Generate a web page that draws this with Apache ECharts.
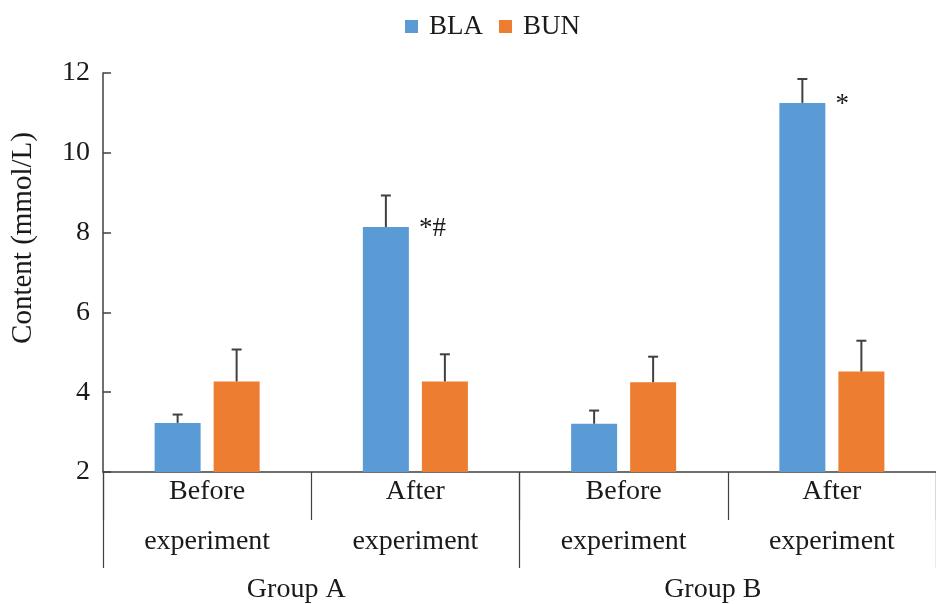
<!DOCTYPE html>
<html>
<head>
<meta charset="utf-8">
<script src="https://cdn.jsdelivr.net/npm/echarts@6/dist/echarts.min.js"></script>
<style>
html,body{margin:0;padding:0;background:#fff;}
#chart{width:936px;height:604px;}
</style>
</head>
<body>
<div id="chart"></div>
<script>
// ---- data ----
const periods = ['Before\nexperiment', 'After\nexperiment', 'Before\nexperiment', 'After\nexperiment'];
const groups = ['Group A', 'Group B'];
const seriesNames = ['BLA', 'BUN'];
const blaMean = [3.23, 8.14, 3.21, 11.25];
const blaErr = [0.21, 0.79, 0.33, 0.60];
const bunMean = [4.27, 4.27, 4.25, 4.52];
const bunErr = [0.80, 0.68, 0.64, 0.77];
const blaMarks = ['', '*#', '', '*'];
const bunMarks = ['', '', '', ''];
const yTicks = [2, 4, 6, 8, 10, 12];
const yTitle = 'Content (mmol/L)';

// ---- styles ----
const FONT = 'Liberation Serif';
const TXT = '#1a1a1a';
const AX = '#404040';
const colors = ['#5B9BD5', '#ED7D31'];
const BAR_W = 46;
const BAR_GAP = 13;

function errSeries(idx, means, errs, marks) {
  const data = means.map((m, i) => [i, m, m + errs[i], marks[i]]);
  const off = (idx === 0 ? -1 : 1) * (BAR_W + BAR_GAP) / 2;
  return {
    type: 'custom',
    name: seriesNames[idx],
    xAxisIndex: 0,
    yAxisIndex: 0,
    silent: true,
    z: 5,
    data: data,
    renderItem: function (params, api) {
      const c = api.coord([api.value(0), api.value(1)]);
      const e = api.coord([api.value(0), api.value(2)]);
      const x = c[0] + off;
      const cap = 5;
      const children = [
        {type: 'line', shape: {x1: x, y1: c[1], x2: x, y2: e[1]}, style: {stroke: AX, lineWidth: 2}},
        {type: 'line', shape: {x1: x - cap, y1: e[1], x2: x + cap, y2: e[1]}, style: {stroke: AX, lineWidth: 2}}
      ];
      const mark = data[params.dataIndex][3];
      if (mark) {
        children.push({
          type: 'text',
          x: x + BAR_W / 2 + 10,
          y: c[1] + 2,
          style: {text: mark, fill: TXT, font: '27px "' + FONT + '"', align: 'left', verticalAlign: 'middle'}
        });
      }
      return {type: 'group', children: children};
    }
  };
}

const chart = echarts.init(document.getElementById('chart'), null, {renderer: 'canvas'});
chart.setOption({
  backgroundColor: '#ffffff',
  animation: false,
  color: colors,
  textStyle: {fontFamily: FONT, color: TXT},
  legend: {
    data: seriesNames,
    left: 400,
    top: 8,
    icon: 'rect',
    itemWidth: 13,
    itemHeight: 13,
    itemGap: 16,
    textStyle: {fontFamily: FONT, fontSize: 27, color: TXT, padding: [0, 0, 0, 6]}
  },
  grid: {left: 103, top: 73, width: 840, height: 401, containLabel: false},
  graphic: [{
    type: 'text',
    x: 23,
    y: 238,
    rotation: Math.PI / 2,
    style: {text: yTitle, fill: TXT, font: '29px "' + FONT + '"', align: 'center', verticalAlign: 'middle'}
  }],
  xAxis: [{
    type: 'category',
    position: 'bottom',
    data: periods,
    axisLine: {show: true, lineStyle: {color: AX, width: 1.5}},
    axisTick: {show: true, length: 48, interval: 0, lineStyle: {color: AX, width: 1.2}},
    axisLabel: {
      interval: 0, margin: -5, fontFamily: FONT, fontSize: 28, color: TXT,
      lineHeight: 50, verticalAlign: 'top'
    },
    splitLine: {show: false}
  }, {
    type: 'category',
    position: 'bottom',
    data: groups,
    axisLine: {show: false},
    axisTick: {show: true, length: 96, interval: 0, lineStyle: {color: AX, width: 1.2}},
    axisLabel: {
      interval: 0, margin: 104, fontFamily: FONT, fontSize: 28, color: TXT,
      verticalAlign: 'top', padding: [0, 30, 0, 0]
    },
    splitLine: {show: false}
  }],
  yAxis: {
    type: 'value',
    min: yTicks[0],
    max: yTicks[yTicks.length - 1],
    interval: yTicks[1] - yTicks[0],
    axisLine: {show: true, lineStyle: {color: AX, width: 1.5}},
    axisTick: {show: true, inside: true, length: 8, lineStyle: {color: AX, width: 1.5}},
    axisLabel: {margin: 13, fontFamily: FONT, fontSize: 28, color: TXT},
    splitLine: {show: false}
  },
  series: [
    {
      type: 'bar', name: seriesNames[0], data: blaMean, barWidth: BAR_W,
      barGap: (BAR_GAP / BAR_W * 100).toFixed(1) + '%',
      itemStyle: {color: colors[0]}
    },
    {
      type: 'bar', name: seriesNames[1], data: bunMean, barWidth: BAR_W,
      barGap: (BAR_GAP / BAR_W * 100).toFixed(1) + '%',
      itemStyle: {color: colors[1]}
    },
    errSeries(0, blaMean, blaErr, blaMarks),
    errSeries(1, bunMean, bunErr, bunMarks)
  ]
});
</script>
</body>
</html>
